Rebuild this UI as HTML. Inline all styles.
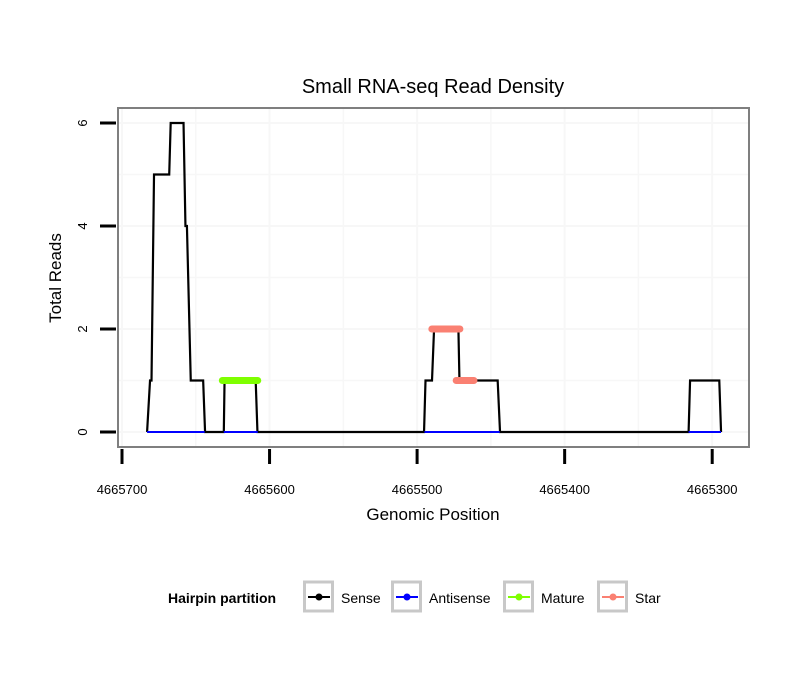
<!DOCTYPE html>
<html><head><meta charset="utf-8"><style>
body{margin:0;background:#fff;}
svg text{font-family:"Liberation Sans",sans-serif;}
</style></head><body>
<svg id="chart" width="810" height="690" xmlns="http://www.w3.org/2000/svg">
<rect width="810" height="690" fill="#fff"/>
<text x="433" y="93" font-size="20" text-anchor="middle">Small RNA-seq Read Density</text>
<g id="grid"></g>
<g id="series"></g>
<rect x="118" y="108" width="631" height="339" fill="none" stroke="#7f7f7f" stroke-width="2"/>
<g id="axes"></g>
<text x="433" y="520" font-size="17" text-anchor="middle">Genomic Position</text>
<text transform="translate(61,278) rotate(-90)" font-size="17" text-anchor="middle">Total Reads</text>
<g id="legend">
<text x="168" y="603" font-size="14" font-weight="bold">Hairpin partition</text>
</g>
</svg>
<script>
const xTicks=[4665700,4665600,4665500,4665400,4665300];
const yTicks=[0,2,4,6];
const sensePos=[4665683,4665681,4665680,4665678.3,4665668,4665667,4665658.3,4665657,4665656,4665653.4,4665645,4665643.7,4665631,4665630.5,4665609.4,4665608.2,4665495.3,4665494.3,4665489.9,4665488.5,4665472,4665471.3,4665445.4,4665443.8,4665316,4665315,4665295.2,4665294];
const senseVal=[0,1,1,5,5,6,6,4,4,1,1,0,0,1,1,0,0,1,1,2,2,1,1,0,0,1,1,0];
const antiStart=[4665683,4665631,4665495,4665316];
const antiEnd=[4665644,4665608,4665444,4665294];
const matureStart=[4665632];
const matureEnd=[4665608];
const matureVal=[1];
const starStart=[4665490,4665473.5];
const starEnd=[4665471,4665461.5];
const starVal=[2,1];
const legendLabels=["Sense","Antisense","Mature","Star"];
const legendColors=["#000000","#0000ff","#7fff00","#fa8072"];

const X=v=>122+(4665700-v)*1.4755;
const Y=v=>432-v*51.5;
const NS="http://www.w3.org/2000/svg";
function mk(parent,tag,attrs){const e=document.createElementNS(NS,tag);for(const k in attrs)e.setAttribute(k,attrs[k]);parent.appendChild(e);return e;}
const grid=document.getElementById('grid'),ser=document.getElementById('series'),ax=document.getElementById('axes'),leg=document.getElementById('legend');
for(let v=4665750;v>=4665250;v-=50){const x=X(v);if(x<119||x>748)continue;const l=mk(grid,'line',{x1:x,x2:x,y1:109,y2:446,stroke:'#f7f7f7','stroke-width':v%100===0?2:1.5});

}
for(let v=0;v<=6.5;v+=1){const y=Y(v);const l=mk(grid,'line',{x1:119,x2:748,y1:y,y2:y,stroke:'#f7f7f7','stroke-width':v%2===0?2:1.5});

}
let pts=sensePos.map((p,i)=>X(p)+','+Y(senseVal[i])).join(' ');
const pl=mk(ser,'polyline',{points:pts,fill:'none',stroke:'#000','stroke-width':2.2,'stroke-linejoin':'miter'});


antiStart.forEach((s,i)=>{const l=mk(ser,'line',{x1:X(s),x2:X(antiEnd[i]),y1:Y(0),y2:Y(0),stroke:'#0000ff','stroke-width':2});

});
matureStart.forEach((s,i)=>{const l=mk(ser,'line',{x1:X(s),x2:X(matureEnd[i]),y1:Y(matureVal[i]),y2:Y(matureVal[i]),stroke:'#7fff00','stroke-width':7,'stroke-linecap':'round'});

});
starStart.forEach((s,i)=>{const l=mk(ser,'line',{x1:X(s),x2:X(starEnd[i]),y1:Y(starVal[i]),y2:Y(starVal[i]),stroke:'#fa8072','stroke-width':7,'stroke-linecap':'round'});

});
xTicks.forEach(v=>{const x=X(v);const t=mk(ax,'line',{x1:x,x2:x,y1:449,y2:464,stroke:'#000','stroke-width':3});


const tx=mk(ax,'text',{x:x,y:494,'font-size':13,'text-anchor':'middle'});tx.textContent=v;

});
yTicks.forEach(v=>{const y=Y(v);const t=mk(ax,'line',{x1:100,x2:116,y1:y,y2:y,stroke:'#000','stroke-width':3});


const tx=mk(ax,'text',{transform:`translate(87,${y}) rotate(-90)`,'font-size':13,'text-anchor':'middle'});tx.textContent=v;

});
const boxX=[303,391,503,597],txtX=[341,429,541,635];
legendLabels.forEach((lab,i)=>{const g=mk(leg,'g',{});


mk(g,'rect',{x:boxX[i]+1.5,y:582,width:28,height:29,fill:'#fff',stroke:'#c8c8c8','stroke-width':3});
mk(g,'line',{x1:boxX[i]+5,x2:boxX[i]+27,y1:597,y2:597,stroke:legendColors[i],'stroke-width':2});
mk(g,'circle',{cx:boxX[i]+16,cy:597,r:3.5,fill:legendColors[i]});
const t=mk(g,'text',{x:txtX[i],y:603,'font-size':14});t.textContent=lab;});
</script>
</body></html>
